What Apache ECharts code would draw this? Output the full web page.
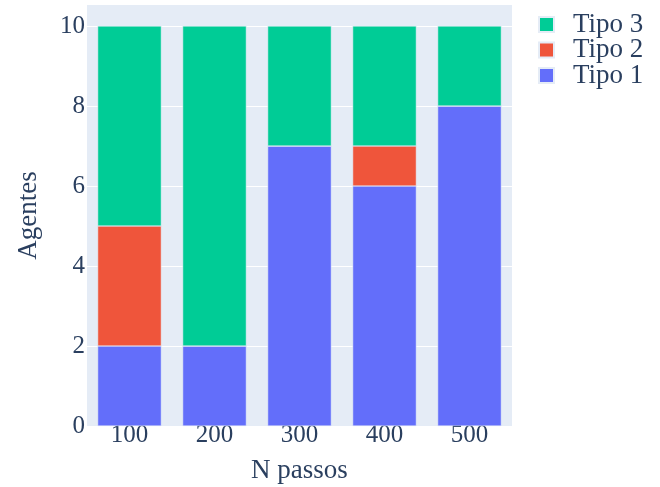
<!DOCTYPE html>
<html>
<head>
<meta charset="utf-8">
<script src="https://cdn.jsdelivr.net/npm/echarts@6/dist/echarts.min.js"></script>
<style>
  html, body { margin: 0; padding: 0; background: #fff; }
  #chart { width: 660px; height: 487px; }
</style>
</head>
<body>
<div id="chart"></div>
<script>
var passos = ['100', '200', '300', '400', '500'];
var tipo1 = [2, 2, 7, 6, 8];
var tipo2 = [3, 0, 0, 1, 0];
var tipo3 = [5, 8, 3, 3, 2];

var chartDom = document.getElementById('chart');
var myChart = echarts.init(chartDom);
var font = '"Liberation Serif", "Times New Roman", serif';
var txt = '#2a3f5f';

function barSeries(name, data, color) {
  return {
    name: name,
    type: 'bar',
    stack: 'total',
    data: data,
    barCategoryGap: '25%',
    itemStyle: { color: color, borderColor: '#E5ECF6', borderWidth: 0.5 }
  };
}

var option = {
  animation: false,
  backgroundColor: '#fff',
  grid: {
    left: 87, right: 148, top: 5, bottom: 61,
    outerBoundsMode: 'none', containLabel: false,
    backgroundColor: '#E5ECF6', show: true, borderWidth: 0
  },
  legend: {
    data: ['Tipo 3', 'Tipo 2', 'Tipo 1'],
    orient: 'vertical',
    left: 538,
    top: 11,
    padding: 0,
    icon: 'rect',
    itemWidth: 15,
    itemHeight: 15,
    itemGap: -1.5,
    formatter: function (name) { return '{t|' + name + '}'; },
    textStyle: {
      fontFamily: font, fontSize: 27, color: txt,
      rich: { t: { fontFamily: font, fontSize: 27, color: txt, padding: [0, 0, 0, 14] } }
    }
  },
  xAxis: {
    type: 'category',
    data: passos,
    name: 'N passos',
    nameLocation: 'middle',
    nameGap: 31,
    nameTextStyle: { fontFamily: font, fontSize: 27, color: txt },
    axisLine: { show: false },
    axisTick: { show: false },
    axisLabel: { fontFamily: font, fontSize: 25, color: txt, margin: -3 }
  },
  yAxis: {
    type: 'value',
    min: 0,
    max: 10.525,
    interval: 2,
    name: 'Agentes',
    nameLocation: 'middle',
    nameGap: 45,
    nameTextStyle: { fontFamily: font, fontSize: 27, color: txt },
    axisLine: { show: false },
    axisTick: { show: false },
    axisLabel: {
      fontFamily: font, fontSize: 25, color: txt, margin: 2,
      padding: [0, 0, 4, 0],
      showMaxLabel: false,
      formatter: function (v) { return v % 2 === 0 ? String(v) : ''; }
    },
    splitLine: { show: true, showMaxLine: false, lineStyle: { color: '#fff', width: 1 } }
  },
  series: [
    barSeries('Tipo 1', tipo1, '#636efa'),
    barSeries('Tipo 2', tipo2, '#EF553B'),
    barSeries('Tipo 3', tipo3, '#00cc96')
  ]
};

myChart.setOption(option);
</script>
</body>
</html>
